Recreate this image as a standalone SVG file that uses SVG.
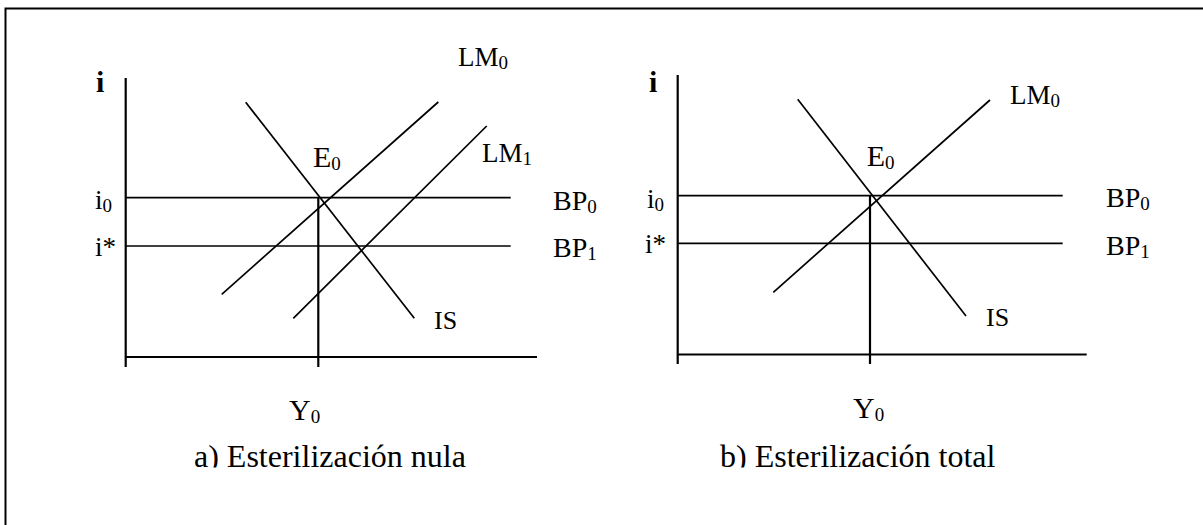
<svg xmlns="http://www.w3.org/2000/svg" width="1203" height="525" viewBox="0 0 1203 525">
<style>
.ln{stroke:#000;stroke-width:1.7;fill:none}
.ax{stroke:#000;stroke-width:2.2;fill:none}
.t{font-family:"Liberation Serif","Times New Roman",serif;fill:#000;font-size:28px}
.sm{font-size:27px}
.lm{font-size:27px}
.b{font-weight:bold;font-size:30px}
.cap{font-size:32px}
.sub{font-size:19px}
</style>
<defs>
<clipPath id="capclip"><rect x="0" y="0" width="1203" height="467.5"/></clipPath>
</defs>
<rect x="5.5" y="8.5" width="1300" height="600" fill="none" stroke="#000" stroke-width="2"/>
<g id="panel-a">
<g id="axes-a">
<line class="ax" x1="125.7" y1="78" x2="125.7" y2="367"/>
<line class="ax" x1="125.7" y1="357" x2="537" y2="357"/>
<line class="ax" x1="318.3" y1="197.7" x2="318.3" y2="367"/>
</g>
<g id="connectors-a">
<line class="ln" x1="125.7" y1="197.7" x2="510.7" y2="197.7"/>
<line class="ln" x1="125.7" y1="246" x2="510.7" y2="246"/>
<line class="ln" x1="245.7" y1="102.3" x2="414.3" y2="318.3"/>
<line class="ln" x1="221.7" y1="294.3" x2="438.3" y2="102"/>
<line class="ln" x1="293.3" y1="318.3" x2="486.7" y2="126"/>
</g>
<g id="labels-a">
<text class="t b" x="96" y="92">i</text>
<text class="t sm" x="95" y="209">i<tspan class="sub" dy="3">0</tspan></text>
<text class="t sm" x="95" y="256">i*</text>
<text class="t" x="313" y="167" style="font-size:30px">E<tspan class="sub" dy="3">0</tspan></text>
<text class="t lm" x="458" y="66">LM<tspan class="sub" dy="3">0</tspan></text>
<text class="t lm" x="482" y="162">LM<tspan class="sub" dy="3">1</tspan></text>
<text class="t" x="553" y="210">BP<tspan class="sub" dy="3">0</tspan></text>
<text class="t" x="553" y="257">BP<tspan class="sub" dy="3">1</tspan></text>
<text class="t" x="434" y="329" style="font-size:26px">IS</text>
<text class="t" x="289" y="420" style="font-size:30px">Y<tspan class="sub" dy="3">0</tspan></text>
<text class="t cap" x="194" y="466.5" clip-path="url(#capclip)">a) Esterilización nula</text>
</g>
</g>
<g id="panel-b">
<g id="axes-b">
<line class="ax" x1="677.7" y1="75" x2="677.7" y2="364"/>
<line class="ax" x1="677.7" y1="354.5" x2="1086.7" y2="354.5"/>
<line class="ax" x1="870" y1="195.7" x2="870" y2="364"/>
</g>
<g id="connectors-b">
<line class="ln" x1="677.7" y1="195.7" x2="1062.7" y2="195.7"/>
<line class="ln" x1="677.7" y1="243.3" x2="1062.7" y2="243.3"/>
<line class="ln" x1="797.7" y1="99.3" x2="966" y2="316"/>
<line class="ln" x1="773.3" y1="292.3" x2="990" y2="100"/>
</g>
<g id="labels-b">
<text class="t b" x="649" y="92">i</text>
<text class="t sm" x="647" y="208">i<tspan class="sub" dy="3">0</tspan></text>
<text class="t sm" x="645" y="253">i*</text>
<text class="t" x="866.7" y="166" style="font-size:30px">E<tspan class="sub" dy="3">0</tspan></text>
<text class="t lm" x="1010" y="104">LM<tspan class="sub" dy="3">0</tspan></text>
<text class="t" x="1106" y="207">BP<tspan class="sub" dy="3">0</tspan></text>
<text class="t" x="1106" y="255">BP<tspan class="sub" dy="3">1</tspan></text>
<text class="t" x="986" y="326" style="font-size:26px">IS</text>
<text class="t" x="853" y="418" style="font-size:30px">Y<tspan class="sub" dy="3">0</tspan></text>
<text class="t cap" x="720" y="466.5" clip-path="url(#capclip)">b) Esterilización total</text>
</g>
</g>
</svg>
